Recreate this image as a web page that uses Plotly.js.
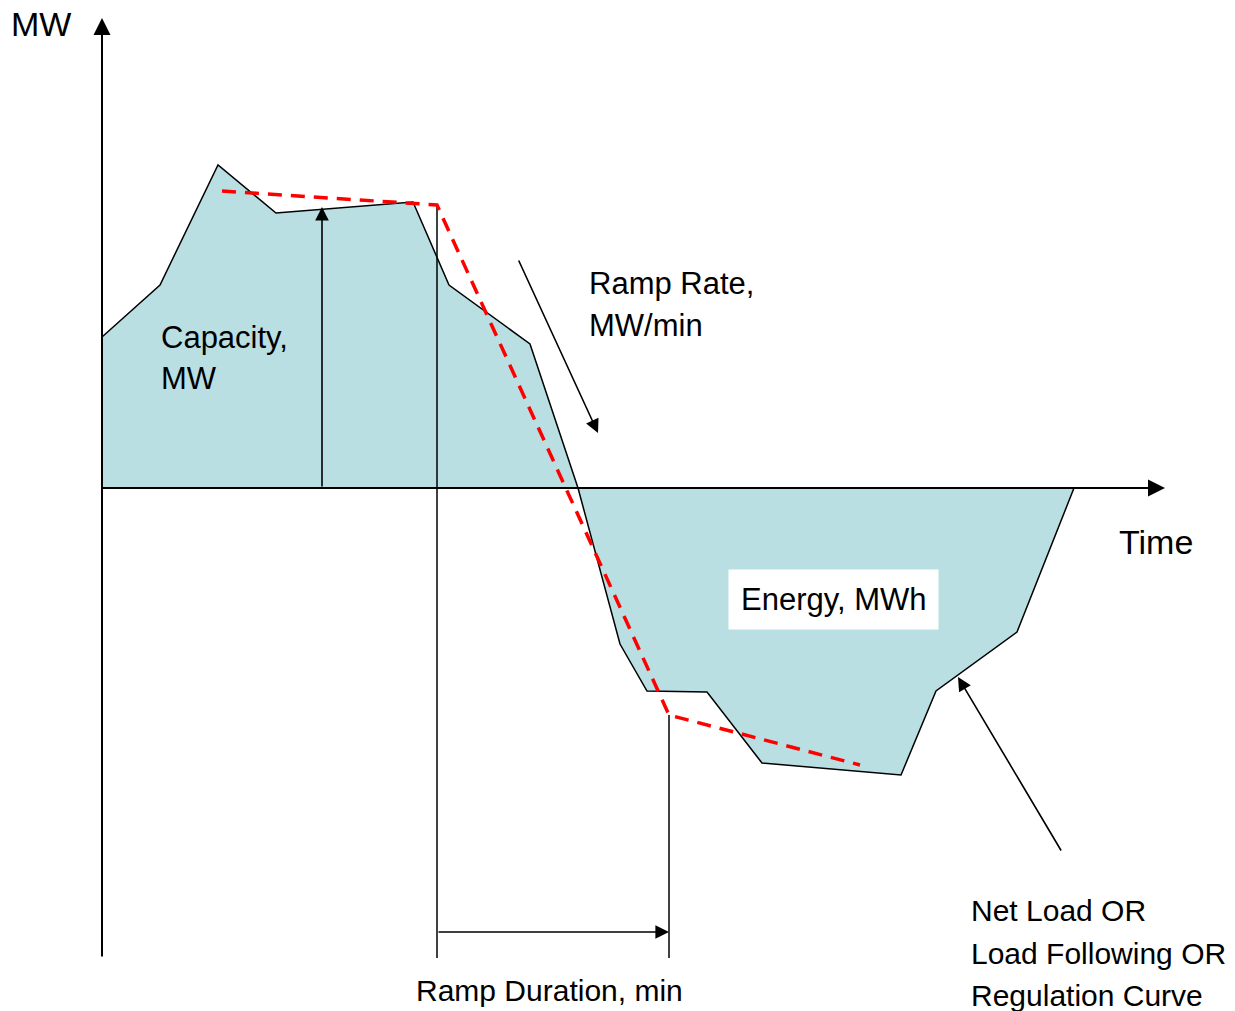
<!DOCTYPE html>
<html>
<head>
<meta charset="utf-8">
<script src="https://cdn.plot.ly/plotly-3.0.1.min.js"></script>
<style>
  html, body { margin: 0; padding: 0; background: #ffffff; }
  #chart { width: 1235px; height: 1011px; }
</style>
</head>
<body>
<div id="chart"></div>
<script>
// net load curve (time units, MW above/below the zero line)
const netLoadTime = [102, 160, 218, 276, 413, 449, 530, 578, 620, 647, 707, 762, 901, 936, 1017, 1074]
const netLoadMW = [151, 203, 323, 275, 286, 203, 144, 0, -156, -203, -204, -275, -287, -203, -144, 0]

// red dashed ramp approximation
const rampTime = [222, 437, 669, 860]
const rampMW = [297, 283, -227, -277]

// axes extents
const originTime = 102
const timeAxisEnd = 1165
const mwAxisTop = 470
const mwAxisBottom = -470

// annotation markers
const capacityTime = 322
const capacityMW = 281
const durationMW = -444
const rampArrowTime = [518, 598]
const rampArrowMW = [229, 55]
const curveArrowTime = [1062, 958]
const curveArrowMW = [-364, -189]

const font = 'Liberation Sans, Arial, sans-serif'

const blackLine = { color: '#000000', width: 1.5 }

const data = [
  {
    type: 'scatter',
    mode: 'lines',
    x: netLoadTime,
    y: netLoadMW,
    fill: 'tozeroy',
    fillcolor: '#b9dfe3',
    line: blackLine,
    hoverinfo: 'skip',
  },
  {
    // ramp start marker line
    type: 'scatter',
    mode: 'lines',
    x: [rampTime[1], rampTime[1]],
    y: [rampMW[1], mwAxisBottom],
    line: blackLine,
    hoverinfo: 'skip',
  },
  {
    // ramp end marker line
    type: 'scatter',
    mode: 'lines',
    x: [rampTime[2], rampTime[2]],
    y: [rampMW[2], mwAxisBottom],
    line: blackLine,
    hoverinfo: 'skip',
  },
  {
    type: 'scatter',
    mode: 'lines',
    x: rampTime,
    y: rampMW,
    line: { color: '#ff0000', width: 3.5, dash: '14px,9px' },
    hoverinfo: 'skip',
  },
]

function arrow(x0, y0, x1, y1, width) {
  return {
    x: x1, y: y1, ax: x0, ay: y0,
    xref: 'x', yref: 'y', axref: 'x', ayref: 'y',
    text: '', showarrow: true,
    arrowhead: 2, arrowsize: 1.7, arrowwidth: width || 1.6,
    arrowcolor: '#000000', standoff: 0, startstandoff: 0,
  }
}

function label(text, x, y, size, extra) {
  return Object.assign({
    x: x, y: y, xref: 'x', yref: 'y',
    text: text, showarrow: false,
    xanchor: 'left', yanchor: 'middle', align: 'left',
    font: { family: font, size: size, color: '#000000' },
  }, extra || {})
}

const annotations = [
  arrow(originTime, mwAxisBottom, originTime, mwAxisTop, 2),
  arrow(originTime - 2, 0, timeAxisEnd, 0, 2),
  arrow(capacityTime, 0, capacityTime, capacityMW),
  arrow(rampTime[1], durationMW, rampTime[2], durationMW),
  arrow(rampArrowTime[0], rampArrowMW[0], rampArrowTime[1], rampArrowMW[1]),
  arrow(curveArrowTime[0], curveArrowMW[0], curveArrowTime[1], curveArrowMW[1]),
  label('MW', 9, 464, 34),
  label('Capacity,', 159, 151, 31),
  label('MW', 159, 110, 31),
  label('Ramp Rate,', 587, 205, 31),
  label('MW/min', 587, 163, 31),
  label('Time', 1117, -54, 34),
  label('Energy, MWh', 833, -111, 31, {
    xanchor: 'center', bgcolor: '#ffffff', borderpad: 12,
  }),
  label('Ramp Duration, min', 414, -502, 30),
  label('Net Load OR', 969, -422, 30),
  label('Load Following OR', 969, -465, 30),
  label('Regulation Curve', 969, -507, 30),
]

const layout = {
  width: 1235,
  height: 1011,
  margin: { t: 0, r: 0, b: 0, l: 0 },
  paper_bgcolor: '#ffffff',
  plot_bgcolor: '#ffffff',
  showlegend: false,
  xaxis: { range: [0, 1235], visible: false, fixedrange: true },
  yaxis: { range: [-523, 488], visible: false, fixedrange: true },
  font: { family: font, color: '#000000' },
  annotations: annotations,
}

Plotly.newPlot('chart', data, layout, { staticPlot: true, displayModeBar: false })
</script>
</body>
</html>
